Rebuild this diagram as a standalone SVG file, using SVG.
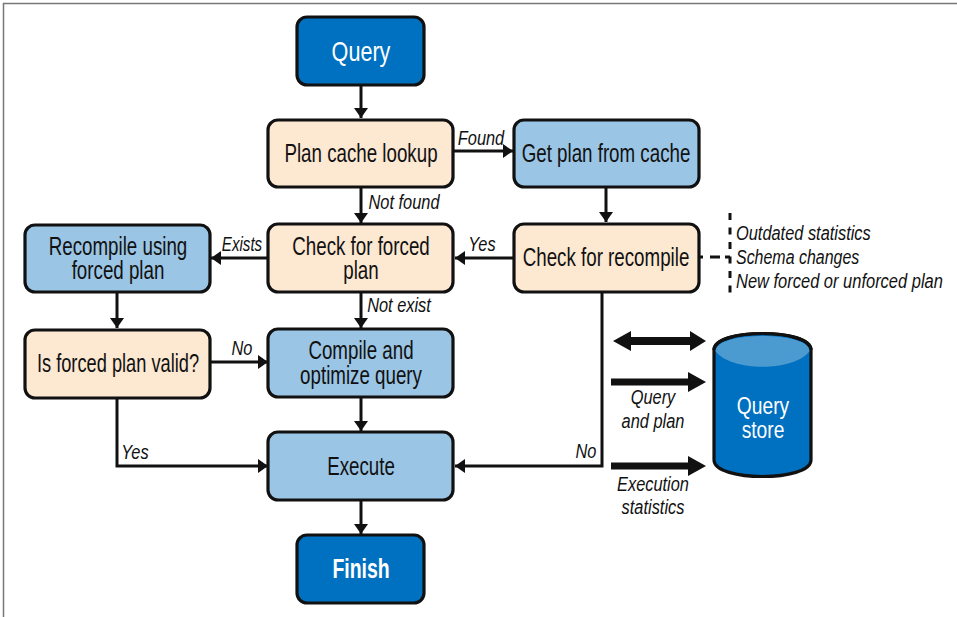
<svg xmlns="http://www.w3.org/2000/svg" width="957" height="617" viewBox="0 0 957 617">
<style>
.n{stroke:#111;stroke-width:3.200}
.d{fill:#0070c0}.o{fill:#fde8d2}.b{fill:#9bc5e5}
text{font-family:"Liberation Sans",Arial,sans-serif;fill:#111;text-anchor:middle}
.t{font-size:25px}
.w{font-size:27px;fill:#fff}
.q{font-size:24px;fill:#fff}
.i{font-size:21px;font-style:italic}
.s{text-anchor:start}
.c{fill:none;stroke:#111;stroke-width:3}
</style>
<defs>
<marker id="a" markerUnits="userSpaceOnUse" markerWidth="12" markerHeight="14" refX="10" refY="7" orient="auto"><path d="M0 0L10 7L0 14Z" fill="#111"/></marker>
</defs>
<path d="M3.500 617V3.500H957" fill="none" stroke="#777" stroke-width="1.500"/>
<g id="connectors">
<path class="c" marker-end="url(#a)" d="M361 85V118"/>
<path class="c" marker-end="url(#a)" d="M453 151H513"/>
<path class="c" marker-end="url(#a)" d="M361 187V223"/>
<path class="c" marker-end="url(#a)" d="M606 187V222"/>
<path class="c" marker-end="url(#a)" d="M514 258H455"/>
<path class="c" marker-end="url(#a)" d="M268 258H211"/>
<path class="c" marker-end="url(#a)" d="M361 292V328"/>
<path class="c" marker-end="url(#a)" d="M117 292V328"/>
<path class="c" marker-end="url(#a)" d="M210 362H268"/>
<path class="c" marker-end="url(#a)" d="M361 397V431"/>
<path class="c" marker-end="url(#a)" d="M117 398V466H268"/>
<path class="c" marker-end="url(#a)" d="M602 292V466H455"/>
<path class="c" marker-end="url(#a)" d="M361 500V534"/>
<path d="M700 257H730" fill="none" stroke="#111" stroke-width="3" stroke-dasharray="3 7 10 5 6 100"/>
<path d="M730 213V299" fill="none" stroke="#111" stroke-width="3" stroke-dasharray="7 7.500"/>
<path fill="#111" d="M613 341L631 331V337H690V331L706 341L690 351V345H631V351Z"/>
<path fill="#111" d="M611 378.500H688V372L706 382L688 392V385.500H611Z"/>
<path fill="#111" d="M611 462.500H688V456L706 466L688 476V469.500H611Z"/>
</g>
<g id="query"><rect class="n d" x="297" y="17" width="127" height="68" rx="10"/><text class="w" transform="translate(361 61) scale(.8 1)">Query</text></g>
<g id="plan-cache-lookup"><rect class="n o" x="268" y="120" width="185" height="67" rx="10"/><text class="t" transform="translate(361 162) scale(.75 1)">Plan cache lookup</text></g>
<g id="get-plan-from-cache"><rect class="n b" x="514" y="120" width="185" height="67" rx="10"/><text class="t" transform="translate(606 162) scale(.75 1)">Get plan from cache</text></g>
<g id="check-forced-plan"><rect class="n o" x="268" y="224" width="185" height="68" rx="10"/><text class="t" transform="translate(361 255) scale(.75 1)">Check for forced</text><text class="t" transform="translate(361 279) scale(.75 1)">plan</text></g>
<g id="check-for-recompile"><rect class="n o" x="514" y="224" width="185" height="68" rx="10"/><text class="t" transform="translate(606 266) scale(.75 1)">Check for recompile</text></g>
<g id="recompile-using-forced-plan"><rect class="n b" x="25" y="225" width="185" height="67" rx="10"/><text class="t" transform="translate(118 255) scale(.75 1)">Recompile using</text><text class="t" transform="translate(118 279) scale(.75 1)">forced plan</text></g>
<g id="is-forced-plan-valid"><rect class="n o" x="25" y="330" width="185" height="68" rx="10"/><text class="t" transform="translate(118 372) scale(.73 1)">Is forced plan valid?</text></g>
<g id="compile-and-optimize"><rect class="n b" x="268" y="329" width="185" height="68" rx="10"/><text class="t" transform="translate(361 359) scale(.75 1)">Compile and</text><text class="t" transform="translate(361 384) scale(.75 1)">optimize query</text></g>
<g id="execute"><rect class="n b" x="268" y="432" width="185" height="68" rx="10"/><text class="t" transform="translate(361 475) scale(.75 1)">Execute</text></g>
<g id="finish"><rect class="n d" x="297" y="535" width="127" height="68" rx="10"/><text class="w" transform="translate(361 578) scale(.72 1)" font-weight="bold">Finish</text></g>
<g id="query-store">
<path class="n d" d="M714 350C714 328 811 328 811 350V460C811 482 714 482 714 460Z"/>
<path d="M715.500 351C715.500 331 809.500 331 809.500 351C795 372 730 372 715.500 351Z" fill="#4c9bd0"/>
<path d="M714 350C714 328 811 328 811 350" fill="none" stroke="#111" stroke-width="3.200"/>
<text class="q" transform="translate(763 414) scale(.8 1)">Query</text><text class="q" transform="translate(763 438) scale(.8 1)">store</text>
</g>
<g id="labels">
<text class="i" transform="translate(481 145) scale(.78 1)">Found</text>
<text class="i" transform="translate(404 209) scale(.78 1)">Not found</text>
<text class="i" transform="translate(242 251) scale(.72 1)">Exists</text>
<text class="i" transform="translate(482 251) scale(.78 1)">Yes</text>
<text class="i" transform="translate(399 312) scale(.78 1)">Not exist</text>
<text class="i" transform="translate(242 355) scale(.78 1)">No</text>
<text class="i" transform="translate(135 459) scale(.78 1)">Yes</text>
<text class="i" transform="translate(586 458) scale(.78 1)">No</text>
<text class="i s" transform="translate(736 240) scale(.78 1)">Outdated statistics</text>
<text class="i s" transform="translate(736 264) scale(.76 1)">Schema changes</text>
<text class="i s" transform="translate(736 288) scale(.785 1)">New forced or unforced plan</text>
<text class="i" transform="translate(653 404) scale(.78 1)">Query</text>
<text class="i" transform="translate(653 428) scale(.78 1)">and plan</text>
<text class="i" transform="translate(653 491) scale(.78 1)">Execution</text>
<text class="i" transform="translate(653 514) scale(.78 1)">statistics</text>
</g>
</svg>
